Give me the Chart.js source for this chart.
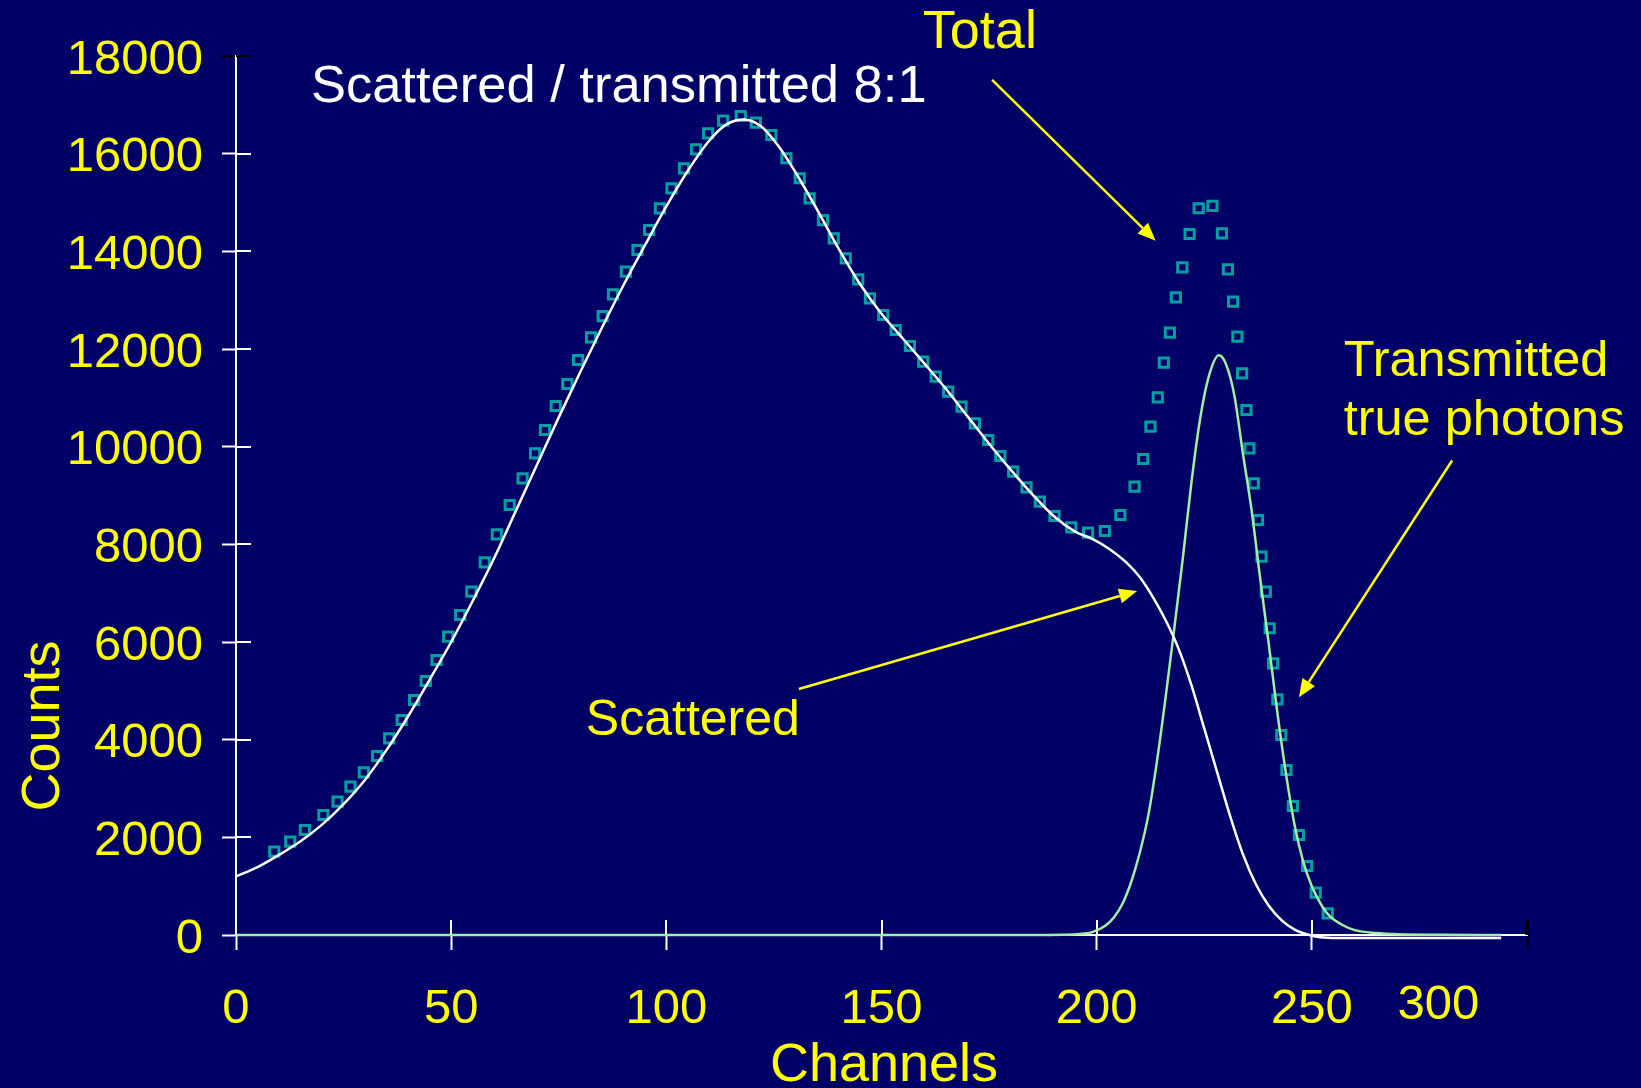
<!DOCTYPE html>
<html>
<head>
<meta charset="utf-8">
<script src="https://cdn.jsdelivr.net/npm/chart.js@4.4.0/dist/chart.umd.min.js"></script>
<style>
  html, body { margin: 0; padding: 0; background: #000066; overflow: hidden; }
  #wrap { width: 1641px; height: 1088px; position: relative; }
</style>
</head>
<body>
<div id="wrap"><canvas id="chart"></canvas></div>
<script>
const scatteredChannels = [0, 5, 10, 15, 20, 25, 30, 35, 40, 45, 50, 55, 60, 65, 70, 75, 80, 85, 90, 95, 100, 105, 110, 114, 118, 122, 126, 130, 135, 140, 145, 150, 155, 160, 165, 170, 175, 180, 185, 190, 195, 199, 203, 207, 210, 213, 216, 219, 222, 225, 228, 231, 234, 237, 240, 243, 246, 249, 252, 256, 294];
const scatteredCounts = [1200, 1390, 1640, 1920, 2260, 2680, 3180, 3790, 4480, 5230, 6000, 6840, 7720, 8680, 9640, 10600, 11530, 12430, 13300, 14120, 14920, 15650, 16270, 16600, 16700, 16560, 16160, 15620, 14860, 14060, 13330, 12720, 12210, 11700, 11180, 10620, 10060, 9530, 9030, 8580, 8260, 8110, 7900, 7620, 7330, 6930, 6450, 5870, 5120, 4230, 3330, 2440, 1650, 1040, 600, 300, 110, 10, -45, -60, -60];

const transmittedChannels = [0, 185, 192, 196, 199, 202, 204, 206, 208, 210, 212, 214, 216, 218, 220, 222, 224, 226, 228.4, 230, 232, 234, 236, 238, 240, 242, 244, 246, 248, 250, 252, 254, 257, 260, 265, 270, 280, 294];
const transmittedCounts = [0, 0, 5, 20, 60, 190, 360, 640, 1080, 1680, 2450, 3550, 4850, 6250, 7700, 9250, 10550, 11420, 11870, 11700, 11050, 9850, 8700, 7300, 5950, 4550, 3300, 2250, 1500, 1000, 650, 400, 210, 100, 40, 15, 5, 0];

const totalChannels = [8.9, 12.6, 16.0, 20.3, 23.6, 26.6, 29.7, 32.8, 35.6, 38.5, 41.4, 44.1, 46.6, 49.3, 52.1, 54.7, 57.8, 60.6, 63.6, 66.6, 69.5, 71.8, 74.3, 77.0, 79.5, 82.5, 85.2, 87.6, 90.6, 93.3, 96.0, 98.5, 101.2, 104.1, 106.9, 109.7, 113.2, 117.3, 120.8, 124.4, 127.9, 131.0, 133.3, 136.4, 138.9, 141.7, 144.6, 147.3, 150.4, 153.3, 156.6, 159.7, 162.6, 165.5, 168.6, 171.7, 174.8, 177.6, 180.6, 183.7, 186.8, 190.2, 194.1, 198.0, 201.9, 205.5, 208.8, 210.8, 212.5, 214.2, 215.6, 217.0, 218.4, 219.9, 221.6, 223.7, 226.9, 229.1, 230.5, 231.7, 232.7, 233.8, 234.8, 235.5, 236.5, 237.5, 238.3, 239.3, 240.2, 241.0, 242.0, 242.9, 244.1, 245.6, 247.0, 248.9, 250.9, 253.7];
const totalCounts = [1706, 1911, 2150, 2457, 2730, 3037, 3332, 3666, 4028, 4403, 4812, 5201, 5631, 6109, 6553, 7030, 7632, 8205, 8805, 9352, 9864, 10341, 10833, 11283, 11775, 12240, 12675, 13120, 13583, 14027, 14437, 14881, 15291, 15700, 16089, 16417, 16676, 16771, 16634, 16382, 15906, 15496, 15086, 14641, 14266, 13857, 13427, 13038, 12696, 12389, 12062, 11740, 11433, 11126, 10819, 10478, 10137, 9809, 9487, 9168, 8873, 8580, 8348, 8239, 8273, 8601, 9180, 9748, 10409, 11009, 11720, 12334, 13059, 13673, 14355, 14882, 14929, 14369, 13632, 12969, 12252, 11502, 10751, 9966, 9250, 8498, 7747, 7030, 6281, 5564, 4826, 4096, 3379, 2642, 2048, 1413, 866, 444];

const xTicks = [0, 50, 100, 150, 200, 250, 300];
const yTicks = [0, 2000, 4000, 6000, 8000, 10000, 12000, 14000, 16000, 18000];

const notes = [
    {text: 'Total', x: 159.6, y: 18174, color: '#ffff00', size: 54},
    {text: 'Scattered / transmitted 8:1', x: 17.4, y: 17064, color: '#ffffff', size: 52.5},
    {text: 'Transmitted', x: 257.4, y: 11447, color: '#ffff00', size: 50.5},
    {text: 'true photons', x: 257.4, y: 10229, color: '#ffff00', size: 50.5},
    {text: 'Scattered', x: 81.3, y: 4096, color: '#ffff00', size: 50},
];
const arrows = [
    {from: [175.7, 17509], to: [213.7, 14218]},
    {from: [130.8, 5038], to: [209.4, 7044]},
    {from: [282.6, 9717], to: [247.0, 4868]},
];

const FONT = '"Liberation Sans", Arial, sans-serif';
const NAVY = '#000066';
const YELLOW = '#ffff00';

const zip = (xs, ys) => xs.map((x, i) => ({x: x, y: ys[i]}));

const overlay = {
    id: 'overlay',
    beforeDraw(chart) {
        const ctx = chart.ctx;
        ctx.save();
        ctx.fillStyle = NAVY;
        ctx.fillRect(0, 0, chart.width, chart.height);
        ctx.restore();
    },
    beforeDatasetsDraw(chart) {
        // tick marks cross the axis, chart.js only draws the outer half
        const ctx = chart.ctx;
        const xs = chart.scales.x, ys = chart.scales.y;
        const area = chart.chartArea;
        ctx.save();
        ctx.lineWidth = 2;
        yTicks.forEach(v => {
            const py = Math.round(ys.getPixelForValue(v));
            ctx.strokeStyle = v === 18000 ? '#000000' : '#ffffff';
            ctx.beginPath();
            ctx.moveTo(area.left, py);
            ctx.lineTo(area.left + 15, py);
            ctx.stroke();
        });
        xTicks.forEach(v => {
            const px = Math.round(xs.getPixelForValue(v));
            ctx.strokeStyle = v === 300 ? '#000000' : '#ffffff';
            ctx.lineWidth = v === 300 ? 3 : 2;
            ctx.beginPath();
            ctx.moveTo(px, area.bottom);
            ctx.lineTo(px, area.bottom - 15);
            ctx.stroke();
        });
        ctx.restore();
    },
    afterDraw(chart) {
        const ctx = chart.ctx;
        const xs = chart.scales.x, ys = chart.scales.y;
        ctx.save();

        notes.forEach(n => {
            ctx.font = n.size + 'px ' + FONT;
            ctx.fillStyle = n.color;
            ctx.textAlign = 'left';
            ctx.textBaseline = 'alphabetic';
            ctx.fillText(n.text, xs.getPixelForValue(n.x), ys.getPixelForValue(n.y));
        });

        ctx.strokeStyle = YELLOW;
        ctx.fillStyle = YELLOW;
        ctx.lineWidth = 2.5;
        arrows.forEach(a => {
            const x1 = xs.getPixelForValue(a.from[0]), y1 = ys.getPixelForValue(a.from[1]);
            const x2 = xs.getPixelForValue(a.to[0]), y2 = ys.getPixelForValue(a.to[1]);
            const ang = Math.atan2(y2 - y1, x2 - x1);
            const headLen = 18, headHalf = 7.5;
            const bx = x2 - headLen * Math.cos(ang), by = y2 - headLen * Math.sin(ang);
            ctx.beginPath();
            ctx.moveTo(x1, y1);
            ctx.lineTo(bx, by);
            ctx.stroke();
            ctx.beginPath();
            ctx.moveTo(x2, y2);
            ctx.lineTo(bx + headHalf * Math.sin(ang), by - headHalf * Math.cos(ang));
            ctx.lineTo(bx - headHalf * Math.sin(ang), by + headHalf * Math.cos(ang));
            ctx.closePath();
            ctx.fill();
        });

        // the 300 label sits left of its tick in the original
        ctx.font = '49px ' + FONT;
        ctx.fillStyle = YELLOW;
        ctx.textAlign = 'center';
        ctx.textBaseline = 'middle';
        ctx.fillText('300', xs.getPixelForValue(279.4), 1005);

        // axis titles
        ctx.font = '54px ' + FONT;
        ctx.textAlign = 'center';
        ctx.textBaseline = 'alphabetic';
        ctx.fillText('Channels', 884, 1081);
        ctx.translate(59, 726);
        ctx.rotate(-Math.PI / 2);
        ctx.fillText('Counts', 0, 0);

        ctx.restore();
    }
};

new Chart(document.getElementById('chart'), {
    type: 'scatter',
    data: {
        datasets: [
            {
                label: 'Scattered',
                data: zip(scatteredChannels, scatteredCounts),
                showLine: true,
                borderColor: '#ffffff',
                borderWidth: 2.5,
                pointRadius: 0,
                cubicInterpolationMode: 'monotone',
                clip: false,
            },
            {
                label: 'Transmitted true photons',
                data: zip(transmittedChannels, transmittedCounts),
                showLine: true,
                borderColor: '#a0f0a0',
                borderWidth: 2.5,
                pointRadius: 0,
                cubicInterpolationMode: 'monotone',
                clip: false,
            },
            {
                label: 'Total',
                data: zip(totalChannels, totalCounts),
                showLine: false,
                pointStyle: 'rect',
                pointRadius: 6.5,
                pointBorderWidth: 3,
                pointBorderColor: '#00a0a0',
                pointBackgroundColor: 'rgba(0,0,0,0)',
                clip: false,
            },
        ]
    },
    options: {
        responsive: true,
        maintainAspectRatio: false,
        animation: false,
        events: [],
        layout: {
            autoPadding: false,
            padding: {left: 0, top: 56, right: 114, bottom: 0}
        },
        plugins: {
            legend: {display: false},
            tooltip: {enabled: false}
        },
        scales: {
            x: {
                type: 'linear',
                min: 0,
                max: 300,
                afterFit: s => { s.height = 153; },
                afterBuildTicks: s => { s.ticks = xTicks.map(v => ({value: v})); },
                grid: {
                    drawOnChartArea: false,
                    tickLength: 15,
                    tickWidth: 2,
                    tickColor: c => (c.tick && c.tick.value === 300) ? '#000000' : '#ffffff'
                },
                border: {color: '#ffffff', width: 2},
                ticks: {
                    color: YELLOW,
                    font: {family: FONT, size: 49},
                    padding: 30,
                    maxRotation: 0,
                    autoSkip: false,
                    callback: v => v === 300 ? '' : String(v)
                }
            },
            y: {
                min: 0,
                max: 18000,
                afterFit: s => { s.width = 236; },
                afterBuildTicks: s => { s.ticks = yTicks.map(v => ({value: v})); },
                grid: {
                    drawOnChartArea: false,
                    tickLength: 14,
                    tickWidth: 2,
                    tickColor: c => (c.tick && c.tick.value === 18000) ? '#000000' : '#ffffff'
                },
                border: {color: '#ffffff', width: 2},
                ticks: {
                    color: YELLOW,
                    font: {family: FONT, size: 49},
                    padding: 19,
                    labelOffset: 4,
                    autoSkip: false,
                    callback: v => String(v)
                }
            }
        }
    },
    plugins: [overlay]
});
</script>
</body>
</html>
